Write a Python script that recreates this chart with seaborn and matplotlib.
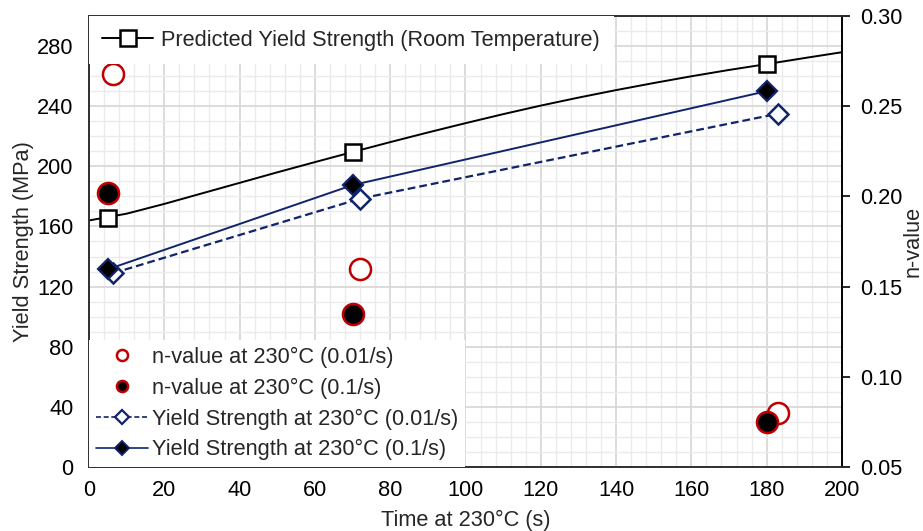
import matplotlib
matplotlib.use("Agg")
import matplotlib.pyplot as plt
from matplotlib.lines import Line2D
from matplotlib.ticker import MultipleLocator, FormatStrFormatter
import pandas as pd
import seaborn as sns

# ---- data ----
# predicted room-temperature yield strength curve
pred_time = [0, 10, 20, 30, 40, 50, 60, 70, 80, 90, 100, 110, 120, 130, 140,
             150, 160, 170, 180, 190, 200]
pred_ys = [164.0, 168.5, 175.0, 182.0, 189.0, 196.0, 202.8, 209.5, 216.1, 222.5,
           228.7, 234.7, 240.4, 245.7, 250.7, 255.4, 259.9, 264.1, 268.0, 272.0, 275.9]
# predicted values at the tested times
pred_pts_time = [5, 70, 180]
pred_pts_ys = [165.5, 209.5, 268]

# measured yield strength at 230 °C
ys_slow_time = [6.5, 72, 183]
ys_slow = [129, 178.5, 235]
ys_fast_time = [5, 70, 180]
ys_fast = [131.5, 187.5, 250]

# n-values at 230 °C
n_slow_time = [6.5, 72, 183]
n_slow = [0.268, 0.160, 0.080]
n_fast_time = [5, 70, 180]
n_fast = [0.202, 0.135, 0.075]

labels = ["Predicted Yield Strength (Room Temperature)",
          "n-value at 230°C (0.01/s)",
          "n-value at 230°C (0.1/s)",
          "Yield Strength at 230°C (0.01/s)",
          "Yield Strength at 230°C (0.1/s)"]

NAVY = "#10246b"
RED = "#c00000"
FS = 15.7

sns.set_style("white")
plt.rcParams["font.family"] = ["Liberation Sans", "DejaVu Sans"]

fig = plt.figure(figsize=(9.23, 5.31), dpi=100)
ax = fig.add_axes([0.0964, 0.1205, 0.8158, 0.8494])
ax2 = ax.twinx()

df_pred = pd.DataFrame({"t": pred_time, "v": pred_ys})
df_pred_pts = pd.DataFrame({"t": pred_pts_time, "v": pred_pts_ys})
df_slow = pd.DataFrame({"t": ys_slow_time, "v": ys_slow})
df_fast = pd.DataFrame({"t": ys_fast_time, "v": ys_fast})
df_ns = pd.DataFrame({"t": n_slow_time, "v": n_slow})
df_nf = pd.DataFrame({"t": n_fast_time, "v": n_fast})

# yield strength curves (left axis)
sns.lineplot(data=df_pred, x="t", y="v", ax=ax, color="black", lw=1.4,
             estimator=None, sort=False, zorder=3)
sns.lineplot(data=df_pred_pts, x="t", y="v", ax=ax, color="black", lw=0,
             marker="s", markersize=12, markerfacecolor="white",
             markeredgecolor="black", markeredgewidth=1.8,
             estimator=None, sort=False, zorder=4)
sns.lineplot(data=df_slow, x="t", y="v", ax=ax, color=NAVY, lw=1.6,
             linestyle=(0, (3.5, 1.8)), marker="D", markersize=10,
             markerfacecolor="white", markeredgecolor=NAVY, markeredgewidth=1.8,
             estimator=None, sort=False, zorder=4)
sns.lineplot(data=df_fast, x="t", y="v", ax=ax, color=NAVY, lw=1.4,
             marker="D", markersize=10, markerfacecolor="black",
             markeredgecolor=NAVY, markeredgewidth=1.6,
             estimator=None, sort=False, zorder=5)

# n-values (right axis)
sns.scatterplot(data=df_ns, x="t", y="v", ax=ax2, s=230, marker="o",
                facecolor="white", edgecolor=RED, linewidth=1.8, zorder=3)
sns.scatterplot(data=df_nf, x="t", y="v", ax=ax2, s=230, marker="o",
                facecolor="black", edgecolor=RED, linewidth=1.8, zorder=4)

# axes ranges and ticks
ax.set_xlim(0, 200)
ax.set_ylim(0, 300)
ax2.set_ylim(0.05, 0.30)
ax.xaxis.set_major_locator(MultipleLocator(20))
ax.xaxis.set_minor_locator(MultipleLocator(4))
ax.yaxis.set_major_locator(MultipleLocator(40))
ax.yaxis.set_minor_locator(MultipleLocator(10))
ax2.yaxis.set_major_locator(MultipleLocator(0.05))
ax2.yaxis.set_major_formatter(FormatStrFormatter("%.2f"))

ax.grid(which="major", color="#d6d6d6", lw=1.2)
ax.grid(which="minor", color="#ebebeb", lw=1.0)
ax.set_axisbelow(True)

ax.tick_params(axis="x", which="both", length=0, labelsize=FS, colors="black", pad=9)
ax.tick_params(axis="y", which="both", length=0, labelsize=FS, colors="black", pad=11)
ax2.tick_params(axis="y", which="major", direction="out", length=6, width=1.2,
                labelsize=FS, colors="black", pad=7)
ax2.tick_params(axis="y", which="minor", length=0)

for a in (ax, ax2):
    for s in a.spines.values():
        s.set_color("#333333")
        s.set_linewidth(1.3)
ax2.spines["right"].set_color("black")

ax.set_xlabel("Time at 230°C (s)", fontsize=FS, labelpad=7)
ax.set_ylabel("Yield Strength (MPa)", fontsize=FS, labelpad=2)
ax2.set_ylabel("n-value", fontsize=FS, labelpad=0)

# legends
h_pred = Line2D([], [], color="black", lw=1.4, marker="s", markersize=12,
                markerfacecolor="white", markeredgecolor="black", markeredgewidth=1.8)
h_ns = Line2D([], [], lw=0, marker="o", markersize=8, markerfacecolor="white",
              markeredgecolor=RED, markeredgewidth=1.8)
h_nf = Line2D([], [], lw=0, marker="o", markersize=8, markerfacecolor="black",
              markeredgecolor=RED, markeredgewidth=1.8)
h_slow = Line2D([], [], color=NAVY, lw=1.2, linestyle=(0, (3, 1.6)), marker="D",
                markersize=7, markerfacecolor="white", markeredgecolor=NAVY,
                markeredgewidth=1.6)
h_fast = Line2D([], [], color=NAVY, lw=1.2, marker="D", markersize=7,
                markerfacecolor="black", markeredgecolor=NAVY, markeredgewidth=1.4)

leg1 = ax2.legend([h_pred], [labels[0]], loc="upper left", bbox_to_anchor=(0, 1),
                  borderaxespad=0.0, fontsize=FS, frameon=True, fancybox=False,
                  framealpha=1, edgecolor="none", facecolor="white",
                  handlelength=2.3, handletextpad=0.4, borderpad=0.62)
ax2.add_artist(leg1)
leg2 = ax2.legend([h_ns, h_nf, h_slow, h_fast], labels[1:], loc="lower left",
                  bbox_to_anchor=(0, 0), borderaxespad=0.0, fontsize=FS,
                  frameon=True, fancybox=False, framealpha=1, edgecolor="none",
                  facecolor="white", handlelength=2.4, handletextpad=0.2,
                  labelspacing=0.45, borderpad=0.3)

fig.savefig("out.png", dpi=100)
